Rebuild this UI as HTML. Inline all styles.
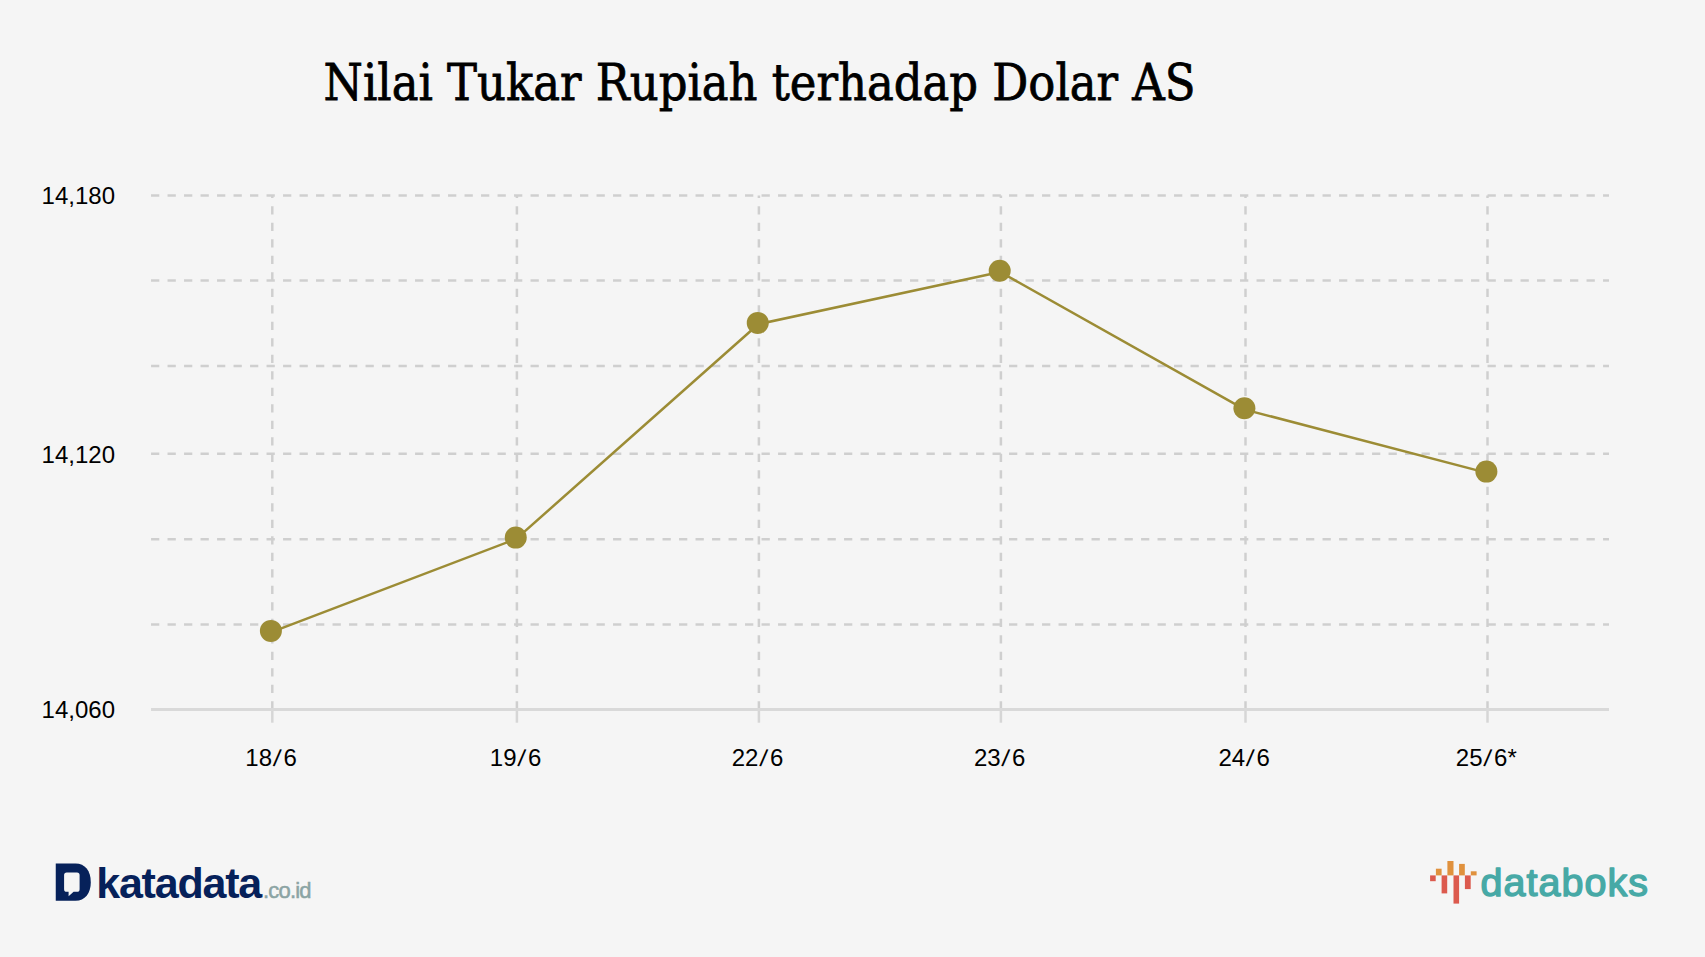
<!DOCTYPE html>
<html lang="id"><head><meta charset="utf-8"><title>Nilai Tukar Rupiah terhadap Dolar AS</title>
<style>html,body{margin:0;padding:0;background:#f5f5f5;}body{width:1705px;height:957px;overflow:hidden;}svg{display:block;}.ax{font-family:"Liberation Sans",sans-serif;font-size:24px;fill:#000;}.ttl{font-family:"DejaVu Serif","Liberation Serif",serif;font-size:49.5px;fill:#000;}</style></head><body>
<svg width="1705" height="957" viewBox="0 0 1705 957">
<rect width="1705" height="957" fill="#f5f5f5"/>
<text class="ttl" x="323.6" y="100.4" textLength="872" lengthAdjust="spacingAndGlyphs" stroke="#000" stroke-width="0.8">Nilai Tukar Rupiah terhadap Dolar AS</text>
<g fill="none" stroke="#cfcfcf" stroke-width="2.5">
<path d="M151.05 195.4 H1609" stroke-dasharray="8.25 8.25"/>
<path d="M151.05 280.45 H1609" stroke-dasharray="8.25 8.25"/>
<path d="M151.05 365.9 H1609" stroke-dasharray="8.25 8.25"/>
<path d="M151.05 453.7 H1609" stroke-dasharray="8.25 8.25"/>
<path d="M151.05 539.2 H1609" stroke-dasharray="8.25 8.25"/>
<path d="M151.05 624.45 H1609" stroke-dasharray="8.25 8.25"/>
<path d="M272.3 709.5 V195.4" stroke-dasharray="8.25 8.25"/>
<path d="M272.3 709.5 V722.7" stroke="#d6d6d6"/>
<path d="M516.9 709.5 V195.4" stroke-dasharray="8.25 8.25"/>
<path d="M516.9 709.5 V722.7" stroke="#d6d6d6"/>
<path d="M758.9 709.5 V195.4" stroke-dasharray="8.25 8.25"/>
<path d="M758.9 709.5 V722.7" stroke="#d6d6d6"/>
<path d="M1000.9 709.5 V195.4" stroke-dasharray="8.25 8.25"/>
<path d="M1000.9 709.5 V722.7" stroke="#d6d6d6"/>
<path d="M1245.5 709.5 V195.4" stroke-dasharray="8.25 8.25"/>
<path d="M1245.5 709.5 V722.7" stroke="#d6d6d6"/>
<path d="M1487.5 709.5 V195.4" stroke-dasharray="8.25 8.25"/>
<path d="M1487.5 709.5 V722.7" stroke="#d6d6d6"/>
<path d="M151.05 709.5 H1609" stroke="#d9d9d9" stroke-width="3"/>
</g>
<path d="M271.4 632.2 L516.25 538.9 L758.25 324.2 L1000.2 272.0 L1244.9 409.6 L1486.9 472.9" fill="none" stroke="#9c8c35" stroke-width="2.5" stroke-linejoin="round" stroke-linecap="round"/>
<circle cx="270.9" cy="630.9" r="11" fill="#9c8c35"/>
<circle cx="515.75" cy="537.6" r="11" fill="#9c8c35"/>
<circle cx="757.75" cy="322.9" r="11" fill="#9c8c35"/>
<circle cx="999.7" cy="270.7" r="11" fill="#9c8c35"/>
<circle cx="1244.4" cy="408.3" r="11" fill="#9c8c35"/>
<circle cx="1486.4" cy="471.6" r="11" fill="#9c8c35"/>
<text class="ax" x="115" y="203.9" text-anchor="end">14,180</text>
<text class="ax" x="115" y="462.9" text-anchor="end">14,120</text>
<text class="ax" x="115" y="717.9" text-anchor="end">14,060</text>
<text class="ax" x="271.1" y="765.8" text-anchor="middle">18<tspan dx="0.7" rotate="8">/</tspan><tspan dx="4.1">6</tspan></text>
<text class="ax" x="515.6" y="765.8" text-anchor="middle">19<tspan dx="0.7" rotate="8">/</tspan><tspan dx="4.1">6</tspan></text>
<text class="ax" x="757.5" y="765.8" text-anchor="middle">22<tspan dx="0.7" rotate="8">/</tspan><tspan dx="4.1">6</tspan></text>
<text class="ax" x="999.7" y="765.8" text-anchor="middle">23<tspan dx="0.7" rotate="8">/</tspan><tspan dx="4.1">6</tspan></text>
<text class="ax" x="1244.2" y="765.8" text-anchor="middle">24<tspan dx="0.7" rotate="8">/</tspan><tspan dx="4.1">6</tspan></text>
<text class="ax" x="1486.3" y="765.8" text-anchor="middle">25<tspan dx="0.7" rotate="8">/</tspan><tspan dx="4.1">6*</tspan></text>
<g id="katadata">
<path d="M55.75 863.6 H75.5 C85 863.6 90.8 871 90.8 882.15 C90.8 893.3 85 900.7 75.5 900.7 H55.75 Z" fill="#06215a"/>
<path d="M66.7 872.5 H77 Q79.6 872.5 79.6 875.1 V889.2 Q79.6 891.8 77 891.8 H73.6 L68.6 896.2 V891.8 H66.7 Q64.1 891.8 64.1 889.2 V875.1 Q64.1 872.5 66.7 872.5 Z" fill="#f5f5f5"/>
<text x="96.2" y="897.9" font-family="'Liberation Sans',sans-serif" font-weight="bold" font-size="43" fill="#06215a" textLength="166" lengthAdjust="spacing">katadata</text>
<text x="263" y="898" font-family="'Liberation Sans',sans-serif" font-size="22" fill="#8ba4a4" stroke="#8ba4a4" stroke-width="0.5" textLength="48.6" lengthAdjust="spacing">.co.id</text>
</g>
<g id="databoks">
<rect x="1435.9" y="868.7" width="5.7" height="6.7" fill="#e0913d"/>
<rect x="1447.4" y="861.0" width="6.1" height="14.4" fill="#e0913d"/>
<rect x="1459.1" y="863.9" width="5.7" height="11.5" fill="#e0913d"/>
<rect x="1470.8" y="871.3" width="5.8" height="4.1" fill="#e0913d"/>
<rect x="1430.1" y="875.4" width="5.6" height="5.8" fill="#dc5a4e"/>
<rect x="1441.6" y="875.4" width="5.6" height="18.0" fill="#dc5a4e"/>
<rect x="1453.5" y="875.4" width="5.6" height="28.2" fill="#dc5a4e"/>
<rect x="1464.9" y="875.4" width="5.8" height="13.7" fill="#dc5a4e"/>
<text x="1480.5" y="895.9" font-family="'Liberation Sans',sans-serif" font-size="39.5" fill="#47a9a6" stroke="#47a9a6" stroke-width="1.4" stroke-linejoin="round" textLength="167.5" lengthAdjust="spacing">databoks</text>
</g>
</svg></body></html>
